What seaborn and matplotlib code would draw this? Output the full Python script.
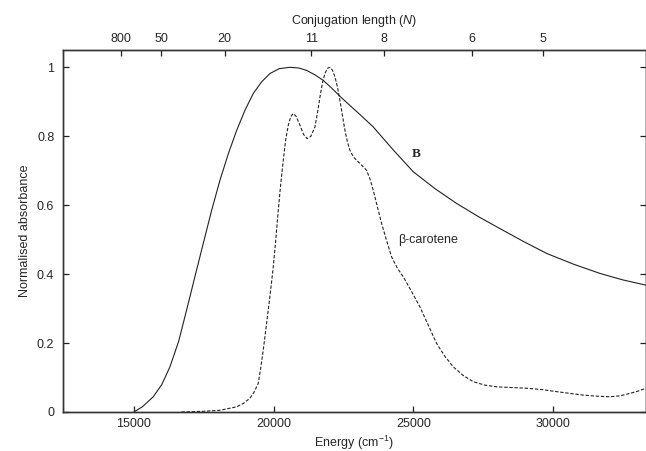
import numpy as np
import pandas as pd
import matplotlib
matplotlib.use("Agg")
import matplotlib.pyplot as plt
import seaborn as sns

# absorbance of polymer B (solid line)
energy_b = [15000, 15300, 15690, 16000, 16288, 16600, 16885, 17180, 17480,
            17780, 18076, 18380, 18675, 18970, 19270, 19570, 19866, 20200,
            20582, 20900, 21178, 21480, 21773, 22070, 22370, 22730, 23085,
            23562, 24280, 24993, 25770, 26545, 27320, 28094, 28930, 29766,
            30720, 31673, 32500, 33319]
absorb_b = [0.0, 0.015, 0.044, 0.080, 0.131, 0.205, 0.296, 0.392, 0.489,
            0.585, 0.672, 0.750, 0.817, 0.875, 0.924, 0.958, 0.982, 0.996,
            1.0, 0.998, 0.991, 0.978, 0.962, 0.940, 0.916, 0.889, 0.863,
            0.827, 0.760, 0.697, 0.648, 0.605, 0.567, 0.532, 0.495, 0.460,
            0.429, 0.402, 0.383, 0.368]

# beta-carotene (dashed line)
energy_car = [16700, 17500, 18076, 18675, 18920, 19150, 19300, 19448, 19540,
              19627, 19720, 19806, 19900, 19985, 20075, 20164, 20250, 20343,
              20430, 20522, 20610, 20701, 20800, 20940, 21070, 21200, 21330,
              21476, 21570, 21655, 21745, 21834, 21920, 22013, 22100, 22192,
              22280, 22370, 22460, 22549, 22640, 22728, 22820, 22907, 23100,
              23324, 23450, 23562, 23710, 23860, 24040, 24218, 24420, 24635,
              24930, 25231, 25530, 25827, 26120, 26424, 26780, 27139, 27550,
              27974, 28500, 29047, 29600, 30120, 30600, 31076, 31550, 32030,
              32400, 32745, 33050, 33319]
absorb_car = [0.0, 0.002, 0.005, 0.015, 0.025, 0.040, 0.058, 0.083, 0.130,
              0.180, 0.240, 0.296, 0.360, 0.421, 0.500, 0.586, 0.660, 0.730,
              0.790, 0.832, 0.857, 0.866, 0.858, 0.832, 0.805, 0.793, 0.800,
              0.827, 0.870, 0.914, 0.955, 0.982, 0.997, 1.0, 0.992, 0.972,
              0.943, 0.904, 0.860, 0.817, 0.783, 0.759, 0.745, 0.735, 0.720,
              0.701, 0.675, 0.643, 0.595, 0.547, 0.497, 0.450, 0.418, 0.392,
              0.350, 0.305, 0.252, 0.199, 0.162, 0.131, 0.106, 0.088, 0.078,
              0.073, 0.071, 0.069, 0.065, 0.059, 0.054, 0.049, 0.046, 0.044,
              0.047, 0.054, 0.061, 0.069]

# top axis: conjugation length, E = E0 + C / N
conj_ticks = [800, 50, 20, 11, 8, 6, 5]
E0, C = 14450, 75900

sns.set_style("ticks")
plt.rcParams['font.family'] = ['Liberation Sans', 'DejaVu Sans']
plt.rcParams['mathtext.fontset'] = 'custom'
plt.rcParams['mathtext.rm'] = 'Liberation Sans'
plt.rcParams['mathtext.it'] = 'Liberation Sans:italic'

df = pd.concat([
    pd.DataFrame({'energy': energy_b, 'absorbance': absorb_b, 'sample': 'B'}),
    pd.DataFrame({'energy': energy_car, 'absorbance': absorb_car, 'sample': 'carotene'}),
])

fig = plt.figure(figsize=(6.46, 4.51), dpi=100)
ax = fig.add_axes([0.097, 0.0865, 0.903, 0.8025])
sns.lineplot(data=df, x='energy', y='absorbance', style='sample',
             dashes={'B': '', 'carotene': (3, 1.6)}, color='#222222',
             lw=0.8, legend=False, ax=ax)

ax.set_xlim(12450, 33320)
ax.set_ylim(0, 1.05)
ax.set_xticks([15000, 20000, 25000, 30000])
ax.set_yticks([0, 0.2, 0.4, 0.6, 0.8, 1.0])
ax.set_yticklabels(['0', '0.2', '0.4', '0.6', '0.8', '1'])
ax.tick_params(direction='in', length=4, width=0.9, labelsize=9,
               right=True, top=False, color='#222222')
ax.tick_params(axis='y', pad=6)
ax.tick_params(axis='x', pad=4)
ax.set_xlabel('Energy (cm$^{-1}$)', fontsize=9, labelpad=3)
ax.set_ylabel('Normalised absorbance', fontsize=9, labelpad=4)

ax2 = ax.twiny()
ax2.set_xlim(ax.get_xlim())
ax2.set_xticks([E0 + C / n for n in conj_ticks])
ax2.set_xticklabels([str(n) for n in conj_ticks])
ax2.tick_params(direction='in', length=4, width=0.9, labelsize=9, pad=4,
                color='#222222')
ax2.set_xlabel('Conjugation length ($N$)', fontsize=9, labelpad=6)

for a in (ax, ax2):
    for s in a.spines.values():
        s.set_linewidth(1.0)
        s.set_color('#333333')

ax.text(25089, 0.748, 'B', fontsize=9.5, fontweight='bold',
        family='Liberation Serif', ha='center', va='center')
ax.text(24445, 0.499, 'β-carotene', fontsize=9, ha='left', va='center')

fig.savefig('out.png', dpi=100)
